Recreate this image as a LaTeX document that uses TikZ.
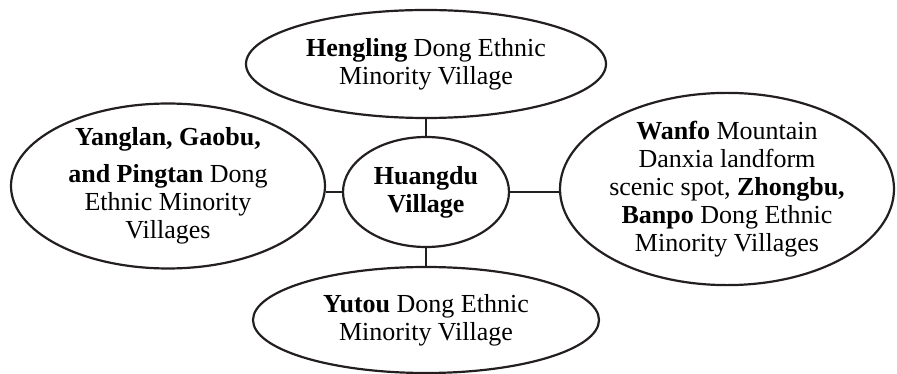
\documentclass[tikz,border=0pt]{standalone}
\usepackage{fontspec}
\setmainfont{Liberation Serif}
\usetikzlibrary{shapes.geometric}
\definecolor{ink}{HTML}{231F20}
\begin{document}
\begin{tikzpicture}[x=1pt,y=-1pt,
  bub/.style={ellipse, draw=ink, line width=2.2pt, inner sep=0pt, align=center,
    font=\fontsize{26}{28}\selectfont, text=black},
  link/.style={draw=ink, line width=2.2pt}]
\useasboundingbox (0,0) rectangle (897,374);
\node[bub, minimum width=360pt, minimum height=108pt] (top) at (426,64)
  {\textbf{Hengling} Dong Ethnic\\Minority Village};
\node[bub, minimum width=166pt, minimum height=110pt] (mid) at (426,192)
  {\textbf{Huangdu}\\\textbf{Village}};
\node[bub, minimum width=314pt, minimum height=152pt] (left) at (168,186)
  {\textbf{Yanglan, Gaobu,}\\[9pt]\textbf{and Pingtan} Dong\\Ethnic Minority\\Villages};
\node[bub, minimum width=334pt, minimum height=160pt] (right) at (727,189)
  {\textbf{Wanfo} Mountain\\Danxia landform\\scenic spot, \textbf{Zhongbu,}\\\textbf{Banpo} Dong Ethnic\\Minority Villages};
\node[bub, minimum width=346pt, minimum height=106pt] (bot) at (426,320)
  {\textbf{Yutou} Dong Ethnic\\Minority Village};
\draw[link] (top.south) -- (mid.north);
\draw[link] (mid.south) -- (bot.north);
\draw[link] (mid.west) -- (mid.west -| left.east);
\draw[link] (mid.east) -- (mid.east -| right.west);
\end{tikzpicture}
\end{document}
